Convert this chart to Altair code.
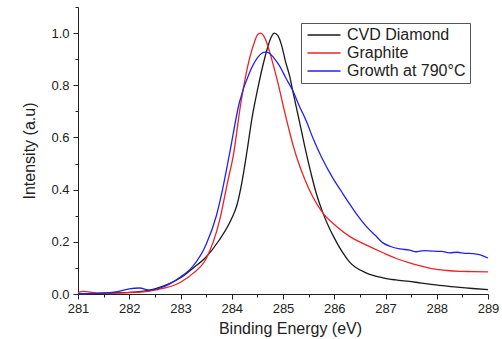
import altair as alt
import pandas as pd

FONT = "Liberation Sans"

series_names = ["CVD Diamond", "Graphite", "Growth at 790°C"]
series_colors = ["#1a1a1a", "#ee2222", "#2222ee"]

diamond_x = [281, 281.5, 282, 282.5, 283, 283.25, 283.5, 283.75, 284.0, 284.1, 284.2, 284.3,
             284.4, 284.5, 284.6, 284.7, 284.77, 284.83, 284.9, 284.97, 285.05, 285.13, 285.2,
             285.3, 285.42, 285.55, 285.65, 285.78, 285.91, 286.0, 286.15, 286.3, 286.62,
             286.95, 287.2, 287.47, 287.7, 287.93, 288.2, 288.45, 288.7, 289.0]
diamond_y = [0.0, 0.003, 0.006, 0.02, 0.062, 0.1, 0.142, 0.205, 0.29, 0.34, 0.43, 0.55,
             0.68, 0.78, 0.87, 0.945, 0.985, 1.0, 0.99, 0.955, 0.89, 0.835, 0.77,
             0.68, 0.57, 0.46, 0.385, 0.31, 0.25, 0.215, 0.163, 0.122, 0.081,
             0.062, 0.054, 0.048, 0.042, 0.036, 0.03, 0.025, 0.021, 0.017]

graphite_x = [281, 281.1, 281.2, 281.4, 282, 282.5, 283, 283.25, 283.5, 283.76, 283.92, 284.03,
              284.18, 284.35, 284.45, 284.5, 284.56, 284.62, 284.68, 284.74, 284.9, 285.03,
              285.13, 285.2, 285.3, 285.42, 285.58, 285.78, 286.04, 286.33, 286.62, 286.95,
              287.2, 287.47, 287.7, 287.93, 288.2, 288.45, 288.7, 289]
graphite_y = [0.005, 0.01, 0.008, 0.003, 0.005, 0.015, 0.045, 0.08, 0.135, 0.28, 0.43, 0.53,
              0.735, 0.905, 0.97, 0.993, 1.0, 0.99, 0.965, 0.927, 0.81, 0.70,
              0.62, 0.568, 0.505, 0.442, 0.373, 0.31, 0.26, 0.217, 0.188, 0.158,
              0.137, 0.119, 0.107, 0.096, 0.09, 0.087, 0.086, 0.085]

growth_x = [281, 281.5, 281.8, 282.0, 282.2, 282.4, 282.6, 282.8, 283.0, 283.24, 283.5, 283.7,
            283.82, 283.95, 284.15, 284.35, 284.5, 284.58, 284.66, 284.74, 284.82, 284.93,
            285.05, 285.19, 285.32, 285.45, 285.6, 285.75, 285.97, 286.15, 286.3, 286.45,
            286.62, 286.8, 286.95, 287.1, 287.28, 287.47, 287.6, 287.75, 287.93, 288.1,
            288.25, 288.4, 288.55, 288.71, 288.85, 289.0]
growth_y = [0.0, 0.003, 0.01, 0.02, 0.023, 0.015, 0.023, 0.04, 0.065, 0.106, 0.19, 0.30,
            0.40, 0.53, 0.735, 0.85, 0.905, 0.922, 0.927, 0.922, 0.905, 0.875,
            0.83, 0.78, 0.72, 0.665, 0.59, 0.525, 0.445, 0.39, 0.345, 0.302,
            0.26, 0.225, 0.196, 0.182, 0.173, 0.168, 0.162, 0.166, 0.164, 0.163,
            0.158, 0.16, 0.156, 0.155, 0.15, 0.138]

x_major = [281, 282, 283, 284, 285, 286, 287, 288, 289]
x_minor = [281.5, 282.5, 283.5, 284.5, 285.5, 286.5, 287.5, 288.5]
y_major = [0.0, 0.2, 0.4, 0.6, 0.8, 1.0]
y_minor = [0.1, 0.3, 0.5, 0.7, 0.9, 1.1]

rows = []
for name, xs, ys in [(series_names[0], diamond_x, diamond_y),
                     (series_names[1], graphite_x, graphite_y),
                     (series_names[2], growth_x, growth_y)]:
    for xv, yv in zip(xs, ys):
        rows.append({"x": xv, "y": yv, "series": name})
df = pd.DataFrame(rows)

xscale = alt.Scale(domain=[281, 289], nice=False, zero=False)
yscale = alt.Scale(domain=[0, 1.1], nice=False, zero=True)

AX = "#222222"

lines = alt.Chart(df).mark_line(strokeWidth=1.3, interpolate="monotone").encode(
    x=alt.X("x:Q", scale=xscale,
            axis=alt.Axis(values=x_major, format="d", title="Binding Energy (eV)",
                          orient="bottom", grid=False, tickSize=5, labelPadding=3,
                          labelFlush=False, titlePadding=5, titleX=212)),
    y=alt.Y("y:Q", scale=yscale,
            axis=alt.Axis(values=y_major, format=".1f", title="Intensity (a.u)",
                          orient="left", grid=False, tickSize=5, labelPadding=4,
                          labelFlush=False, titlePadding=13)),
    color=alt.Color("series:N",
                    scale=alt.Scale(domain=series_names, range=series_colors),
                    sort=series_names,
                    legend=alt.Legend(title=None, orient="none", legendX=223, legendY=16,
                                      symbolType="M-3,0H3", symbolSize=121,
                                      symbolStrokeWidth=1.5, symbolOffset=11,
                                      labelOffset=15, labelFontSize=16, labelFont=FONT,
                                      labelColor=AX, strokeColor="#555555", padding=4,
                                      rowPadding=2, fillColor="white")),
    detail="series:N",
)

minor = alt.Chart(df).mark_line(opacity=0).encode(
    x=alt.X("x:Q", scale=xscale,
            axis=alt.Axis(values=x_minor, labels=False, domain=False, grid=False,
                          tickSize=3, title=None, orient="bottom")),
    y=alt.Y("y:Q", scale=yscale,
            axis=alt.Axis(values=y_minor, labels=False, domain=False, grid=False,
                          tickSize=3, title=None, orient="left")),
    detail="series:N",
)

chart = alt.layer(lines, minor).resolve_axis(
    x="independent", y="independent"
).properties(
    width=410, height=287,
    autosize=alt.AutoSizeParams(type="none"),
    padding={"left": 78, "top": 7, "right": 14, "bottom": 45},
).configure_view(stroke=None).configure_axis(
    domainColor=AX, tickColor=AX, labelColor=AX, titleColor=AX,
    labelFont=FONT, titleFont=FONT, labelFontSize=13, titleFontSize=16,
    titleFontWeight="normal", domainWidth=1, tickWidth=1,
)

chart.save("out.html", embed_options={"renderer": "svg", "actions": False})
